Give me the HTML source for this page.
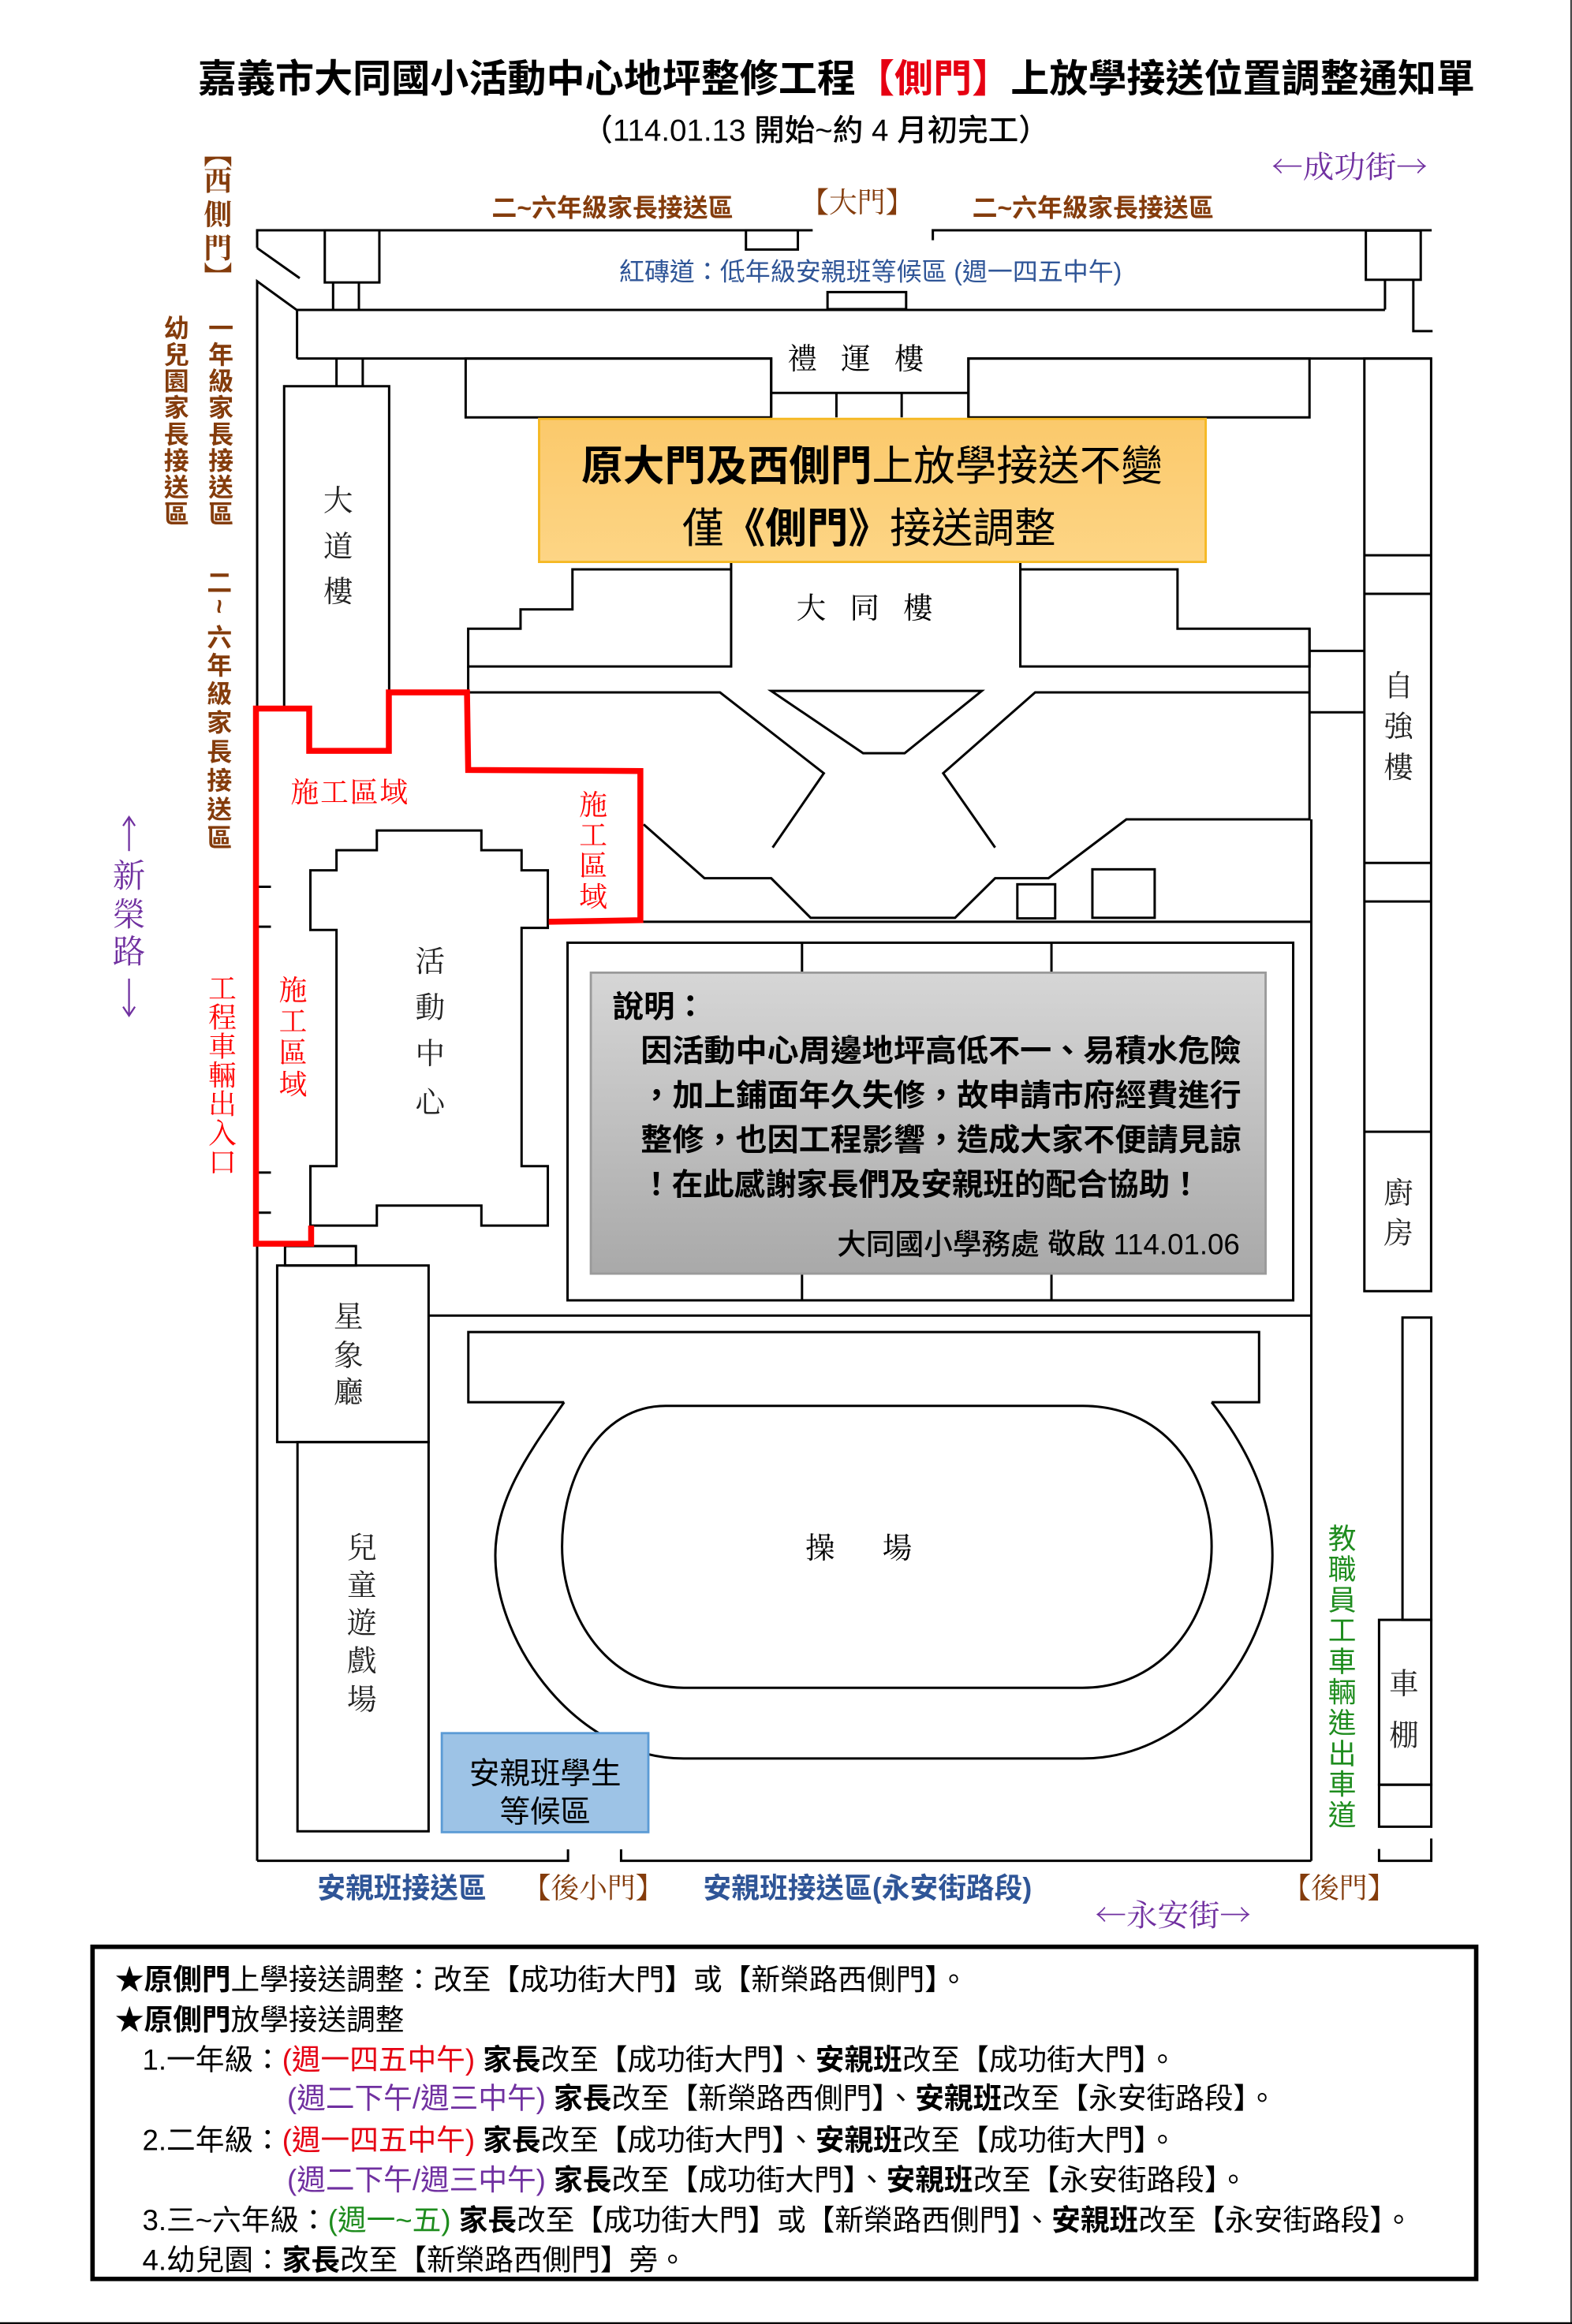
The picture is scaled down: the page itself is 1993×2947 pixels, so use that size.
<!DOCTYPE html>
<html><head><meta charset="utf-8">
<style>
html,body{margin:0;padding:0;background:#fff;}
svg{display:block;}
.sans{font-family:"Liberation Sans","Noto Sans CJK TC",sans-serif;}
.serif{font-family:"Liberation Serif","Noto Serif CJK SC",serif;}
.cjkserif{font-family:"Noto Serif CJK SC",serif;}
.v{text-anchor:middle;dominant-baseline:central;}
</style></head>
<body>
<svg xmlns="http://www.w3.org/2000/svg" width="1993" height="2947" viewBox="0 0 1060 1567.4">
<defs>
<linearGradient id="gray" x1="0" y1="0" x2="0" y2="1"><stop offset="0" stop-color="#d6d6d6"/><stop offset="1" stop-color="#a9a9a9"/></linearGradient>
<linearGradient id="org" x1="0" y1="0" x2="0" y2="1"><stop offset="0" stop-color="#fbc96b"/><stop offset="1" stop-color="#fdd585"/></linearGradient>
</defs>
<rect width="1060" height="1567.4" fill="#fff"/>
<line x1="1059.4" y1="0" x2="1059.4" y2="1567.4" stroke="#000" stroke-width="0.8"/>
<line x1="0" y1="1566.8" x2="1060" y2="1566.8" stroke="#000" stroke-width="1.2"/>

<!-- Title -->
<text class="sans" x="564" y="62" text-anchor="middle" font-size="26.1" font-weight="bold">嘉義市大同國小活動中心地坪整修工程<tspan fill="#e60012">【側門】</tspan>上放學接送位置調整通知單</text>
<text class="sans" x="550" y="95" text-anchor="middle" font-size="20.5" font-weight="500">（114.01.13 開始~約 4 月初完工）</text>

<!-- top labels -->
<text class="cjkserif" x="910" y="120" text-anchor="middle" font-size="21" fill="#7030a0">←成功街→</text>
<text class="sans" x="413" y="146" text-anchor="middle" font-size="17" font-weight="bold" fill="#843c0c">二~六年級家長接送區</text>
<text class="serif" x="578" y="143" text-anchor="middle" font-size="19" fill="#843c0c">【大門】</text>
<text class="sans" x="737" y="146" text-anchor="middle" font-size="17" font-weight="bold" fill="#843c0c">二~六年級家長接送區</text>
<text class="sans" x="587" y="189" text-anchor="middle" font-size="17" fill="#2f5597">紅磚道：低年級安親班等候區 (週一四五中午)</text>

<g fill="none" stroke="#000" stroke-width="1.6">
<polyline points="173.4,167.3 173.4,155.3 503,155.3"/>
<rect x="503" y="155.3" width="35" height="13"/>
<line x1="538" y1="155.3" x2="548" y2="155.3"/>
<polyline points="629,162 629,155.3 965.4,155.3"/>
<rect x="921" y="155.5" width="37" height="33.2"/>
<polyline points="933.9,188.7 933.9,208.8"/>
<polyline points="953,188.7 953,223.3 966,223.3"/>
<line x1="173.4" y1="167.3" x2="202.1" y2="187.6"/>
<polyline points="173.4,1255 173.4,189.7 200.3,209.2 200.3,241.8"/>
<rect x="219" y="155.3" width="36.8" height="35.2"/>
<line x1="224.6" y1="190.5" x2="224.6" y2="209.2"/>
<line x1="242" y1="190.5" x2="242" y2="209.2"/>
<rect x="558" y="197" width="53" height="11.5"/>
<line x1="200.3" y1="209" x2="933.9" y2="209"/>
<polyline points="200.3,241.8 520,241.8 520,281.5"/>
<polyline points="965.4,241.8 653,241.8 653,281.5"/>
<rect x="314" y="241.8" width="206" height="39.7"/>
<rect x="653" y="241.8" width="230" height="39.7"/>
<line x1="520" y1="265" x2="653" y2="265"/>
<line x1="564" y1="265" x2="564" y2="281.5"/>
<line x1="608" y1="265" x2="608" y2="281.5"/>
<line x1="226.9" y1="241.8" x2="226.9" y2="260.5"/>
<line x1="244.6" y1="241.8" x2="244.6" y2="260.5"/>
<polyline points="191.6,478 191.6,260.5 262.4,260.5 262.4,478"/>
<rect x="920" y="241.8" width="45" height="629"/>
<line x1="920" y1="374.5" x2="965" y2="374.5"/>
<line x1="920" y1="400.5" x2="965" y2="400.5"/>
<line x1="920" y1="582" x2="965" y2="582"/>
<line x1="920" y1="608" x2="965" y2="608"/>
<line x1="920" y1="763.3" x2="965" y2="763.3"/>
<polyline points="493,379 493,449.5 315.7,449.5 315.7,424 351,424 351,411 386,411 386,384 493,384"/>
<polyline points="688,379 688,449.5 883,449.5 883,424 794,424 794,384 688,384"/>
<line x1="883" y1="439" x2="920" y2="439"/>
<line x1="315.7" y1="449.5" x2="315.7" y2="467"/>
<polyline points="315.7,467 485.5,467 555.5,521.5 521,571.6"/>
<polyline points="883,424 883,552.6 759.5,552.6 707,592.3 671,592.3 644,619 546.6,619 520,592.3 475,592.3 434,556"/>
<polyline points="883,467 698,467 636,521.5 671,571.6"/>
<polygon points="520,466 662,466 610,508 582,508"/>
<line x1="883" y1="480.4" x2="920" y2="480.4"/>
<rect x="686" y="596.4" width="25.5" height="23"/>
<rect x="736.6" y="586.3" width="42" height="32.7"/>
<line x1="369.6" y1="621.7" x2="884.2" y2="621.7"/>
<line x1="884.2" y1="552.6" x2="884.2" y2="1255"/>
<rect x="382.7" y="635.8" width="489.3" height="241.2"/>
<line x1="540.8" y1="635.8" x2="540.8" y2="877"/>
<line x1="709" y1="635.8" x2="709" y2="877"/>
<polygon points="209.3,587 226.9,587 226.9,573.4 254.1,573.4 254.1,560.1 324.6,560.1 324.6,573.4 351.7,573.4 351.7,587 369.4,587 369.4,625.8 351.7,625.8 351.7,786.5 369.4,786.5 369.4,826.6 324.6,826.6 324.6,813.1 254.1,813.1 254.1,826.6 209.3,826.6 209.3,786.5 226.9,786.5 226.9,627.2 209.3,627.2"/>
<line x1="173.7" y1="598.1" x2="182.7" y2="598.1"/>
<line x1="173.7" y1="625" x2="182.7" y2="625"/>
<line x1="173.7" y1="790.8" x2="182.7" y2="790.8"/>
<line x1="173.7" y1="817.9" x2="182.7" y2="817.9"/>
<rect x="192.2" y="840.4" width="47.8" height="13.1"/>
<rect x="186.9" y="853.5" width="102.1" height="119.1"/>
<rect x="200.6" y="972.6" width="88.4" height="262.5"/>
<line x1="289" y1="887.3" x2="884.2" y2="887.3"/>
<polyline points="173.4,1255 383,1255 383,1247.3"/>
<polyline points="418.8,1247.3 418.8,1255 884.2,1255"/>
<rect x="945.7" y="888.6" width="19.4" height="203.9"/>
<rect x="929.9" y="1092.5" width="35.2" height="111.2"/>
<rect x="929.9" y="1203.7" width="35.2" height="28.3"/>
<polyline points="929.9,1247 929.9,1255 965.1,1255 965.1,1240"/>
<polyline points="380.4,945.7 315.8,945.7 315.8,898.4 849,898.4 849,945.7 817,945.7"/>
<path d="M380.4,945.7 C358,978 334,1010 334,1049 C334,1110 390,1186 461,1186 L730,1186 C805,1186 858,1110 858,1049 C858,1010 840,975 817,945.7"/>
<path d="M448.8,948.2 L730,948.2 C790,948.2 817,1000 817,1043 C817,1090 785,1138.3 730,1138.3 L461,1138.3 C410,1138.3 379,1090 379,1043 C379,995 405,948.2 448.8,948.2 Z"/>
</g>

<g fill="none" stroke="#ff0000" stroke-width="4">
<polyline points="209.8,826.6 209.8,838.8 172.6,838.8 172.6,477.9 208.5,477.9 208.5,506.4 262.2,506.4 262.2,467 314.9,467 315.7,519.3 431.8,520 431.8,620.6 370,621.7"/>
</g>

<rect x="363.5" y="282.5" width="449.5" height="96.5" fill="url(#org)" stroke="#f5b822" stroke-width="1.5"/>
<text class="sans" x="588" y="324" text-anchor="middle" font-size="28">
<tspan font-weight="bold">原大門及西側門</tspan>上放學接送不變</text>
<text class="sans" x="586" y="366" text-anchor="middle" font-size="28">僅<tspan font-weight="bold">《側門》</tspan>接送調整</text>

<rect x="398.4" y="656" width="455" height="203" fill="url(#gray)" stroke="#9a9a9a" stroke-width="1.5"/>
<g class="sans" font-size="21" font-weight="bold">
<text x="413" y="686">說明：</text>
<text x="432" y="716" textLength="405" lengthAdjust="spacingAndGlyphs">因活動中心周邊地坪高低不一、易積水危險</text>
<text x="432" y="746" textLength="405" lengthAdjust="spacingAndGlyphs">，加上鋪面年久失修，故申請市府經費進行</text>
<text x="432" y="776" textLength="405" lengthAdjust="spacingAndGlyphs">整修，也因工程影響，造成大家不便請見諒</text>
<text x="432" y="806">！在此感謝家長們及安親班的配合協助！</text>
</g>
<text class="sans" x="836" y="846" text-anchor="end" font-size="19.5" font-weight="500">大同國小學務處  敬啟 114.01.06</text>

<rect x="297.9" y="1168.9" width="139.3" height="66.8" fill="#9dc3e6" stroke="#5b9bd5" stroke-width="1.5"/>
<text class="sans" x="367.6" y="1203" text-anchor="middle" font-size="20.5">安親班學生</text>
<text class="sans" x="367.6" y="1229" text-anchor="middle" font-size="20.5">等候區</text>

<text class="serif" x="585" y="249" text-anchor="middle" font-size="20" letter-spacing="16">禮運樓</text>
<text class="serif" x="591" y="417" text-anchor="middle" font-size="20" letter-spacing="16">大同樓</text>
<text class="serif" x="595" y="1051" text-anchor="middle" font-size="20" letter-spacing="32">操場</text>

<g class="serif v" font-size="20" fill="#222">
<text x="228" y="338">大</text><text x="228" y="369">道</text><text x="228" y="399.5">樓</text>
<text x="290" y="649">活</text><text x="290" y="680">動</text><text x="290" y="711">中</text><text x="290" y="744">心</text>
<text x="235" y="888.6">星</text><text x="235" y="914.6">象</text><text x="235" y="939.5">廳</text>
<text x="244" y="1044.3">兒</text><text x="244" y="1069.5">童</text><text x="244" y="1095">遊</text><text x="244" y="1120.6">戲</text><text x="244" y="1146.6">場</text>
<text x="943" y="463">自</text><text x="943" y="490.5">強</text><text x="943" y="518">樓</text>
<text x="943" y="805">廚</text><text x="943" y="832">房</text>
<text x="946.7" y="1136">車</text><text x="946.7" y="1171">棚</text>
</g>

<text class="serif" x="236" y="541" text-anchor="middle" font-size="19" fill="#ff0000" letter-spacing="1">施工區域</text>
<g class="serif v" font-size="19" fill="#ff0000">
<text x="400" y="543">施</text><text x="400" y="563.5">工</text><text x="400" y="584">區</text><text x="400" y="605">域</text>
<text x="197.6" y="668">施</text><text x="197.6" y="689">工</text><text x="197.6" y="710">區</text><text x="197.6" y="731.6">域</text>
<text x="150" y="667">工</text><text x="150" y="686.5">程</text><text x="150" y="706">車</text><text x="150" y="725.5">輛</text><text x="150" y="745">出</text><text x="150" y="764.5">入</text><text x="150" y="784">口</text>
</g>

<g class="serif v" font-size="19" fill="#843c0c" font-weight="bold">
<text x="147" y="104">︻</text><text x="147" y="122">西</text><text x="147" y="145">側</text><text x="147" y="167.5">門</text><text x="147" y="187">︼</text>
</g>
<g class="sans v" font-size="17" fill="#843c0c" font-weight="bold">
<text x="149" y="221.4">一</text><text x="149" y="239.3">年</text><text x="149" y="257.2">級</text><text x="149" y="275.1">家</text><text x="149" y="293">長</text><text x="149" y="310.9">接</text><text x="149" y="328.8">送</text><text x="149" y="346.7">區</text>
<text x="119" y="221.4">幼</text><text x="119" y="239.3">兒</text><text x="119" y="257.2">園</text><text x="119" y="275.1">家</text><text x="119" y="293">長</text><text x="119" y="310.9">接</text><text x="119" y="328.8">送</text><text x="119" y="346.7">區</text>
<text x="148" y="393">二</text><text x="148" y="409" transform="rotate(90 148 409)">~</text><text x="148" y="430">六</text><text x="148" y="449">年</text><text x="148" y="468">級</text><text x="148" y="487.5">家</text><text x="148" y="507">長</text><text x="148" y="526.5">接</text><text x="148" y="546">送</text><text x="148" y="565">區</text>
</g>

<g class="serif v" font-size="22" fill="#7030a0">
<text x="87" y="591">新</text><text x="87" y="617">榮</text><text x="87" y="642">路</text>
</g>
<g stroke="#7030a0" stroke-width="1.2" fill="none">
<line x1="87" y1="552" x2="87" y2="574"/><polyline points="83,557 87,551 91,557"/>
<line x1="87" y1="660" x2="87" y2="684"/><polyline points="83,679 87,685 91,679"/>
</g>

<g class="sans v" font-size="19" fill="#1e8c1e">
<text x="905" y="1038">教</text><text x="905" y="1058.7">職</text><text x="905" y="1079.4">員</text><text x="905" y="1100">工</text><text x="905" y="1120.8">車</text><text x="905" y="1141.5">輛</text><text x="905" y="1162.2">進</text><text x="905" y="1183">出</text><text x="905" y="1203.6">車</text><text x="905" y="1224.3">道</text>
</g>

<text class="sans" x="271" y="1280" text-anchor="middle" font-size="19" font-weight="bold" fill="#2f5597">安親班接送區</text>
<text class="serif" x="400" y="1280" text-anchor="middle" font-size="19" fill="#843c0c">【後小門】</text>
<text class="sans" x="585" y="1280" text-anchor="middle" font-size="19" font-weight="bold" fill="#2f5597">安親班接送區(永安街路段)</text>
<text class="serif" x="903" y="1280" text-anchor="middle" font-size="19" fill="#843c0c">【後門】</text>
<text class="cjkserif" x="791" y="1299" text-anchor="middle" font-size="21" fill="#7030a0">←永安街→</text>

<rect x="62.4" y="1313" width="933" height="224" fill="none" stroke="#000" stroke-width="3"/>
<g class="sans" font-size="19.5">
<text x="77.6" y="1342"><tspan font-weight="bold">★原側門</tspan>上學接送調整：改至【成功街大門】或【新榮路西側門】。</text>
<text x="77.6" y="1369"><tspan font-weight="bold">★原側門</tspan>放學接送調整</text>
<text x="96" y="1396">1.一年級：<tspan fill="#e60012">(週一四五中午)</tspan> <tspan font-weight="bold">家長</tspan>改至【成功街大門】、<tspan font-weight="bold">安親班</tspan>改至【成功街大門】。</text>
<text x="193.6" y="1422"><tspan fill="#7030a0">(週二下午/週三中午)</tspan> <tspan font-weight="bold">家長</tspan>改至【新榮路西側門】、<tspan font-weight="bold">安親班</tspan>改至【永安街路段】。</text>
<text x="96" y="1450">2.二年級：<tspan fill="#e60012">(週一四五中午)</tspan> <tspan font-weight="bold">家長</tspan>改至【成功街大門】、<tspan font-weight="bold">安親班</tspan>改至【成功街大門】。</text>
<text x="193.6" y="1477"><tspan fill="#7030a0">(週二下午/週三中午)</tspan> <tspan font-weight="bold">家長</tspan>改至【成功街大門】、<tspan font-weight="bold">安親班</tspan>改至【永安街路段】。</text>
<text x="96" y="1504">3.三~六年級：<tspan fill="#1e8c1e">(週一~五)</tspan> <tspan font-weight="bold">家長</tspan>改至【成功街大門】或【新榮路西側門】、<tspan font-weight="bold">安親班</tspan>改至【永安街路段】。</text>
<text x="96" y="1531">4.幼兒園：<tspan font-weight="bold">家長</tspan>改至【新榮路西側門】旁。</text>
</g>
</svg>
</body></html>
